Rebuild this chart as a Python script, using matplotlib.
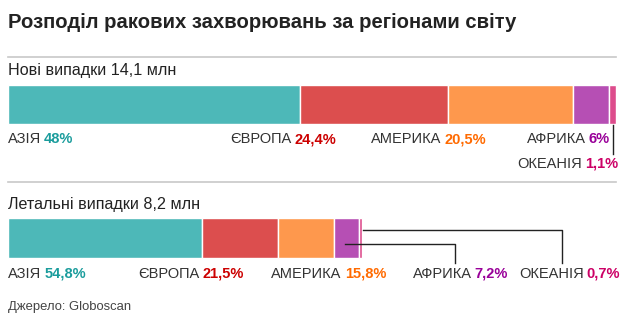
import matplotlib
matplotlib.use("Agg")
import matplotlib.pyplot as plt

# ---- data ----
regions = ["АЗІЯ", "ЄВРОПА", "АМЕРИКА", "АФРИКА", "ОКЕАНІЯ"]
new_cases_pct = [48.0, 24.4, 20.5, 6.0, 1.1]
deaths_pct = [54.8, 21.5, 15.8, 7.2, 0.7]
new_cases_total = 14.1   # млн
deaths_total = 8.2       # млн
new_pct_labels = ["48%", "24,4%", "20,5%", "6%", "1,1%"]
death_pct_labels = ["54,8%", "21,5%", "15,8%", "7,2%", "0,7%"]

bar_colors = ["#4db8b8", "#dc4e4e", "#fe984d", "#b64fb4", "#dd4c8c"]
text_colors = ["#1a9c9c", "#cc0000", "#ff6a00", "#990099", "#cc0066"]

W, H = 624, 323
FONT = ["Liberation Sans", "DejaVu Sans"]
plt.rcParams["font.family"] = FONT

fig = plt.figure(figsize=(W / 100, H / 100), dpi=100)
fig.patch.set_facecolor("white")
ax = fig.add_axes([0, 0, 1, 1])
ax.set_axis_off()

# pixel mapping: x=0 at px 8, 14.1 at px 616
scale = new_cases_total / 608.0
ax.set_xlim(-8 * scale, (W - 8) * scale)
ax.set_ylim(H, 0)


def X(px):
    return (px - 8) * scale


def draw_bar(pcts, total, ytop, ybot):
    lefts = []
    left = 0.0
    for p, c in zip(pcts, bar_colors):
        w = p / 100.0 * total
        ax.barh((ytop + ybot) / 2, w, height=(ybot - ytop), left=left,
                color=c, edgecolor="white", linewidth=1.0)
        lefts.append((left, w))
        left += w
    return lefts


segs1 = draw_bar(new_cases_pct, new_cases_total, 85, 124)
segs2 = draw_bar(deaths_pct, deaths_total, 218, 258)

renderer = fig.canvas.get_renderer()
FS = 10.5


def label(name, pct, color, x, y, align="left"):
    ty = 1 - y / H
    if align == "left":
        t1 = fig.text(x / W, ty, name, fontsize=FS, color="#333333",
                      ha="left", va="center")
        bb = t1.get_window_extent(renderer)
        fig.text((bb.x1 + 3) / W, ty, pct, fontsize=FS, color=color,
                 fontweight="bold", ha="left", va="center")
    else:
        t2 = fig.text(x / W, ty, pct, fontsize=FS, color=color,
                      fontweight="bold", ha="right", va="center")
        bb = t2.get_window_extent(renderer)
        fig.text((bb.x0 - 3) / W, ty, name, fontsize=FS, color="#333333",
                 ha="right", va="center")


# title
fig.text(8 / W, 1 - 22 / H, "Розподіл ракових захворювань за регіонами світу",
         fontsize=14.6, fontweight="bold", color="#222222", ha="left", va="center")

# separators
ax.plot([X(8), X(616)], [57, 57], color="#c8c8c8", lw=1.2)
ax.plot([X(8), X(616)], [182, 182], color="#c8c8c8", lw=1.2)

fig.text(8 / W, 1 - 71 / H, "Нові випадки 14,1 млн", fontsize=11.6,
         color="#222222", ha="left", va="center")
fig.text(8 / W, 1 - 204 / H, "Летальні випадки 8,2 млн", fontsize=11.6,
         color="#222222", ha="left", va="center")

# new cases labels
label(regions[0], new_pct_labels[0], text_colors[0], 8, 139, "left")
label(regions[1], new_pct_labels[1], text_colors[1], 336, 139, "right")
label(regions[2], new_pct_labels[2], text_colors[2], 486, 139, "right")
label(regions[3], new_pct_labels[3], text_colors[3], 610, 139, "right")
label(regions[4], new_pct_labels[4], text_colors[4], 618, 164, "right")
oc_x = segs1[4][0] + segs1[4][1] / 2
ax.plot([oc_x, oc_x], [125, 154], color="#222222", lw=1.0)

# deaths labels
label(regions[0], death_pct_labels[0], text_colors[0], 8, 274, "left")
label(regions[1], death_pct_labels[1], text_colors[1], 244, 274, "right")
label(regions[2], death_pct_labels[2], text_colors[2], 386, 274, "right")
label(regions[3], death_pct_labels[3], text_colors[3], 508, 274, "right")
label(regions[4], death_pct_labels[4], text_colors[4], 620, 274, "right")

af_x = segs2[3][0] + segs2[3][1] * 0.45
ax.plot([af_x, X(455), X(455)], [244, 244, 263], color="#222222", lw=1.0)
oc2_x = segs2[4][0] + segs2[4][1] + 1.5 * scale
ax.plot([oc2_x, X(562), X(562)], [230, 230, 263], color="#222222", lw=1.0)

fig.text(8 / W, 1 - 307 / H, "Джерело: Globoscan", fontsize=9.4,
         color="#444444", ha="left", va="center")

fig.savefig("out.png", dpi=100, facecolor="white")
